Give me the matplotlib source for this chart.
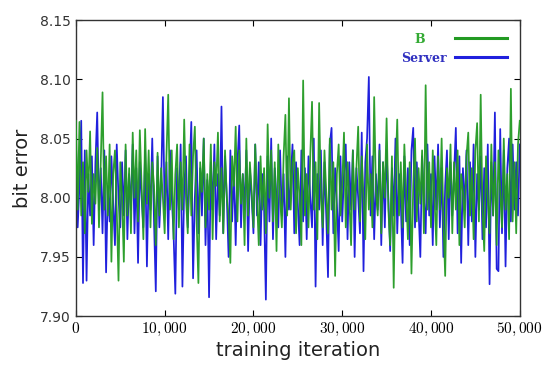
import numpy as np
import matplotlib
matplotlib.use("Agg")
import matplotlib.pyplot as plt

plt.rcParams['mathtext.fontset'] = 'cm'

# iterations: one sample every 200 steps, 0 .. 50000
step = 200

b_vals = [
    8.065, 7.990, 8.064, 7.985, 8.030, 7.970, 8.040, 8.005, 8.056, 7.978,
    8.020, 7.995, 8.042, 7.975, 8.030, 8.089, 7.990, 8.035, 7.985, 8.045,
    7.946, 8.020, 8.040, 7.990, 7.930, 8.030, 8.000, 7.946, 8.045, 7.985,
    8.025, 7.970, 8.055, 8.000, 8.040, 7.980, 8.057, 8.010, 7.965, 8.058,
    7.995, 8.040, 7.975, 8.030, 8.010, 7.960, 8.038, 7.985, 8.025, 8.000,
    7.970, 8.035, 8.087, 7.990, 8.040, 7.965, 8.020, 8.045, 7.975, 8.030,
    7.990, 8.066, 8.000, 7.970, 8.045, 7.985, 8.035, 8.060, 7.980, 7.928,
    8.030, 8.005, 8.050, 7.975, 8.020, 7.990, 8.045, 7.965, 8.030, 8.010,
    8.055, 7.980, 8.025, 7.970, 8.040, 8.000, 7.985, 7.945, 8.035, 8.010,
    8.060, 7.980, 8.040, 7.995, 8.020, 7.960, 8.050, 7.985, 8.030, 8.005,
    7.975, 8.045, 8.000, 7.960, 8.035, 7.990, 8.025, 7.970, 8.062, 8.000,
    8.040, 7.980, 8.030, 7.955, 8.045, 8.000, 7.975, 8.035, 8.070, 7.985,
    8.084, 7.990, 8.030, 8.040, 7.970, 8.025, 8.000, 7.960, 8.099, 7.985,
    8.020, 7.975, 8.035, 8.081, 7.990, 8.030, 7.965, 8.080, 8.000, 7.975,
    8.040, 8.005, 7.970, 8.050, 7.990, 8.030, 7.934, 8.020, 8.045, 7.985,
    8.010, 8.055, 7.975, 8.030, 8.000, 7.960, 8.040, 7.990, 8.025, 8.060,
    7.980, 8.035, 8.000, 7.965, 8.045, 7.990, 8.020, 7.975, 8.085, 8.005,
    7.985, 8.040, 7.970, 8.030, 8.000, 8.067, 7.990, 7.960, 8.035, 7.924,
    8.020, 8.066, 7.985, 8.030, 7.975, 8.045, 8.005, 7.965, 8.030, 7.936,
    8.010, 8.050, 7.980, 8.025, 7.995, 8.040, 7.970, 8.095, 7.990, 8.030,
    7.975, 8.040, 8.000, 7.960, 8.035, 7.990, 8.050, 7.980, 7.934, 8.025,
    8.000, 8.045, 7.970, 8.030, 7.990, 8.040, 7.960, 8.020, 8.005, 7.975,
    8.035, 8.055, 7.985, 8.025, 7.965, 8.040, 8.063, 7.980, 8.087, 7.990,
    7.955, 8.035, 8.000, 7.970, 8.045, 7.985, 8.030, 7.960, 8.040, 8.005,
    7.975, 8.050, 7.990, 8.020, 7.965, 8.092, 7.980, 8.030, 7.970, 8.045,
    8.065,
]

server_vals = [
    8.050, 7.975, 8.010, 8.065, 7.928, 8.040, 7.930, 8.020, 7.985, 8.035,
    7.960, 8.030, 8.072, 7.990, 8.025, 7.970, 8.040, 7.937, 8.010, 7.980,
    8.035, 7.995, 7.960, 8.045, 8.000, 7.975, 8.030, 7.985, 8.040, 7.965,
    8.020, 7.990, 8.045, 7.970, 8.025, 7.945, 8.030, 8.000, 7.975, 8.040,
    7.942, 8.020, 7.990, 8.050, 7.980, 7.921, 8.035, 7.975, 8.010, 8.085,
    7.990, 8.030, 7.965, 8.040, 8.000, 7.970, 7.919, 8.025, 7.990, 8.045,
    7.925, 8.010, 8.035, 7.975, 8.020, 8.064, 7.932, 8.000, 8.040, 7.970,
    8.025, 7.985, 8.050, 7.960, 8.015, 7.916, 8.030, 7.990, 8.045, 7.965,
    8.020, 7.985, 8.077, 7.970, 8.035, 8.000, 7.950, 8.040, 7.980, 8.025,
    7.960, 8.030, 8.061, 7.975, 8.020, 7.990, 8.040, 7.955, 8.025, 8.000,
    7.970, 8.045, 7.985, 8.030, 7.960, 8.020, 7.990, 7.914, 8.035, 7.980,
    8.050, 7.965, 8.025, 8.000, 7.975, 8.040, 7.985, 8.020, 7.950, 8.035,
    7.990, 8.015, 8.045, 7.970, 8.030, 7.995, 7.960, 8.040, 7.980, 8.025,
    7.965, 8.035, 8.000, 7.975, 8.050, 7.925, 8.020, 7.990, 8.040, 7.960,
    8.030, 7.985, 7.933, 8.045, 8.059, 7.970, 8.025, 7.995, 7.955, 8.035,
    7.980, 8.020, 8.045, 7.965, 8.030, 7.990, 8.040, 7.950, 8.025, 8.000,
    7.970, 8.055, 7.938, 8.030, 8.050, 8.102, 7.985, 8.035, 7.965, 8.020,
    7.990, 8.045, 7.960, 8.030, 7.975, 8.040, 8.000, 7.955, 8.025, 7.985,
    8.050, 7.970, 8.020, 7.995, 7.945, 8.035, 7.980, 8.025, 7.960, 8.040,
    8.059, 7.975, 8.030, 7.990, 7.950, 8.035, 8.000, 7.970, 8.045, 7.985,
    8.020, 7.960, 8.035, 7.990, 8.045, 7.975, 8.025, 7.950, 8.010, 8.040,
    7.965, 8.030, 7.985, 8.020, 8.059, 7.970, 8.035, 7.945, 8.025, 7.990,
    8.040, 7.960, 8.030, 7.980, 8.045, 7.950, 8.020, 7.990, 8.035, 7.965,
    8.025, 7.975, 8.045, 7.927, 8.030, 7.985, 8.072, 7.940, 7.938, 8.058,
    7.970, 8.040, 7.942, 8.025, 8.050, 7.980, 8.045, 7.990, 8.030, 7.985,
    8.045,
]

iters = np.arange(len(b_vals)) * step

xticks = [0, 10000, 20000, 30000, 40000, 50000]
xtick_labels = [r'$0$', r'$10,000$', r'$20,000$', r'$30,000$', r'$40,000$', r'$50,000$']
yticks = [7.90, 7.95, 8.00, 8.05, 8.10, 8.15]

green = '#229a22'
blue = '#2020dd'

fig = plt.figure(figsize=(5.5, 3.72), dpi=100)
ax = fig.add_axes([0.138, 0.150, 0.807, 0.796])

# server drawn underneath so the green trace shows through the dense middle
ls, = ax.plot(iters, server_vals, color=blue, lw=1.25, label='Server', zorder=2)
lb, = ax.plot(iters, b_vals, color=green, lw=1.25, label='B', zorder=3, alpha=0.95)

ax.set_xlim(0, 50000)
ax.set_ylim(7.90, 8.15)
ax.set_xticks(xticks)
ax.set_xticklabels(xtick_labels, fontsize=11)
ax.set_yticks(yticks)
ax.set_yticklabels(['%.2f' % v for v in yticks], fontsize=10, color='#333333')
ax.tick_params(direction='in', top=True, right=True, length=4, width=0.8)
for s in ax.spines.values():
    s.set_color('#333333')
    s.set_linewidth(1.0)

ax.set_xlabel('training iteration', fontsize=14, color='#222222', labelpad=2)
ax.set_ylabel('bit error', fontsize=14, color='#222222', labelpad=6)

leg = ax.legend([lb, ls], ['B     ', 'Server'], loc='upper right', frameon=False,
                markerfirst=False, handlelength=4.2, handletextpad=0.6,
                labelspacing=0.5, borderaxespad=0.6,
                prop={'family': 'DejaVu Serif', 'weight': 'bold', 'size': 9})
for t, c in zip(leg.get_texts(), ['#33aa33', '#3030c0']):
    t.set_color(c)
for l in leg.get_lines():
    l.set_linewidth(2.2)
    l.set_alpha(1)

fig.savefig('out.png', dpi=100)
